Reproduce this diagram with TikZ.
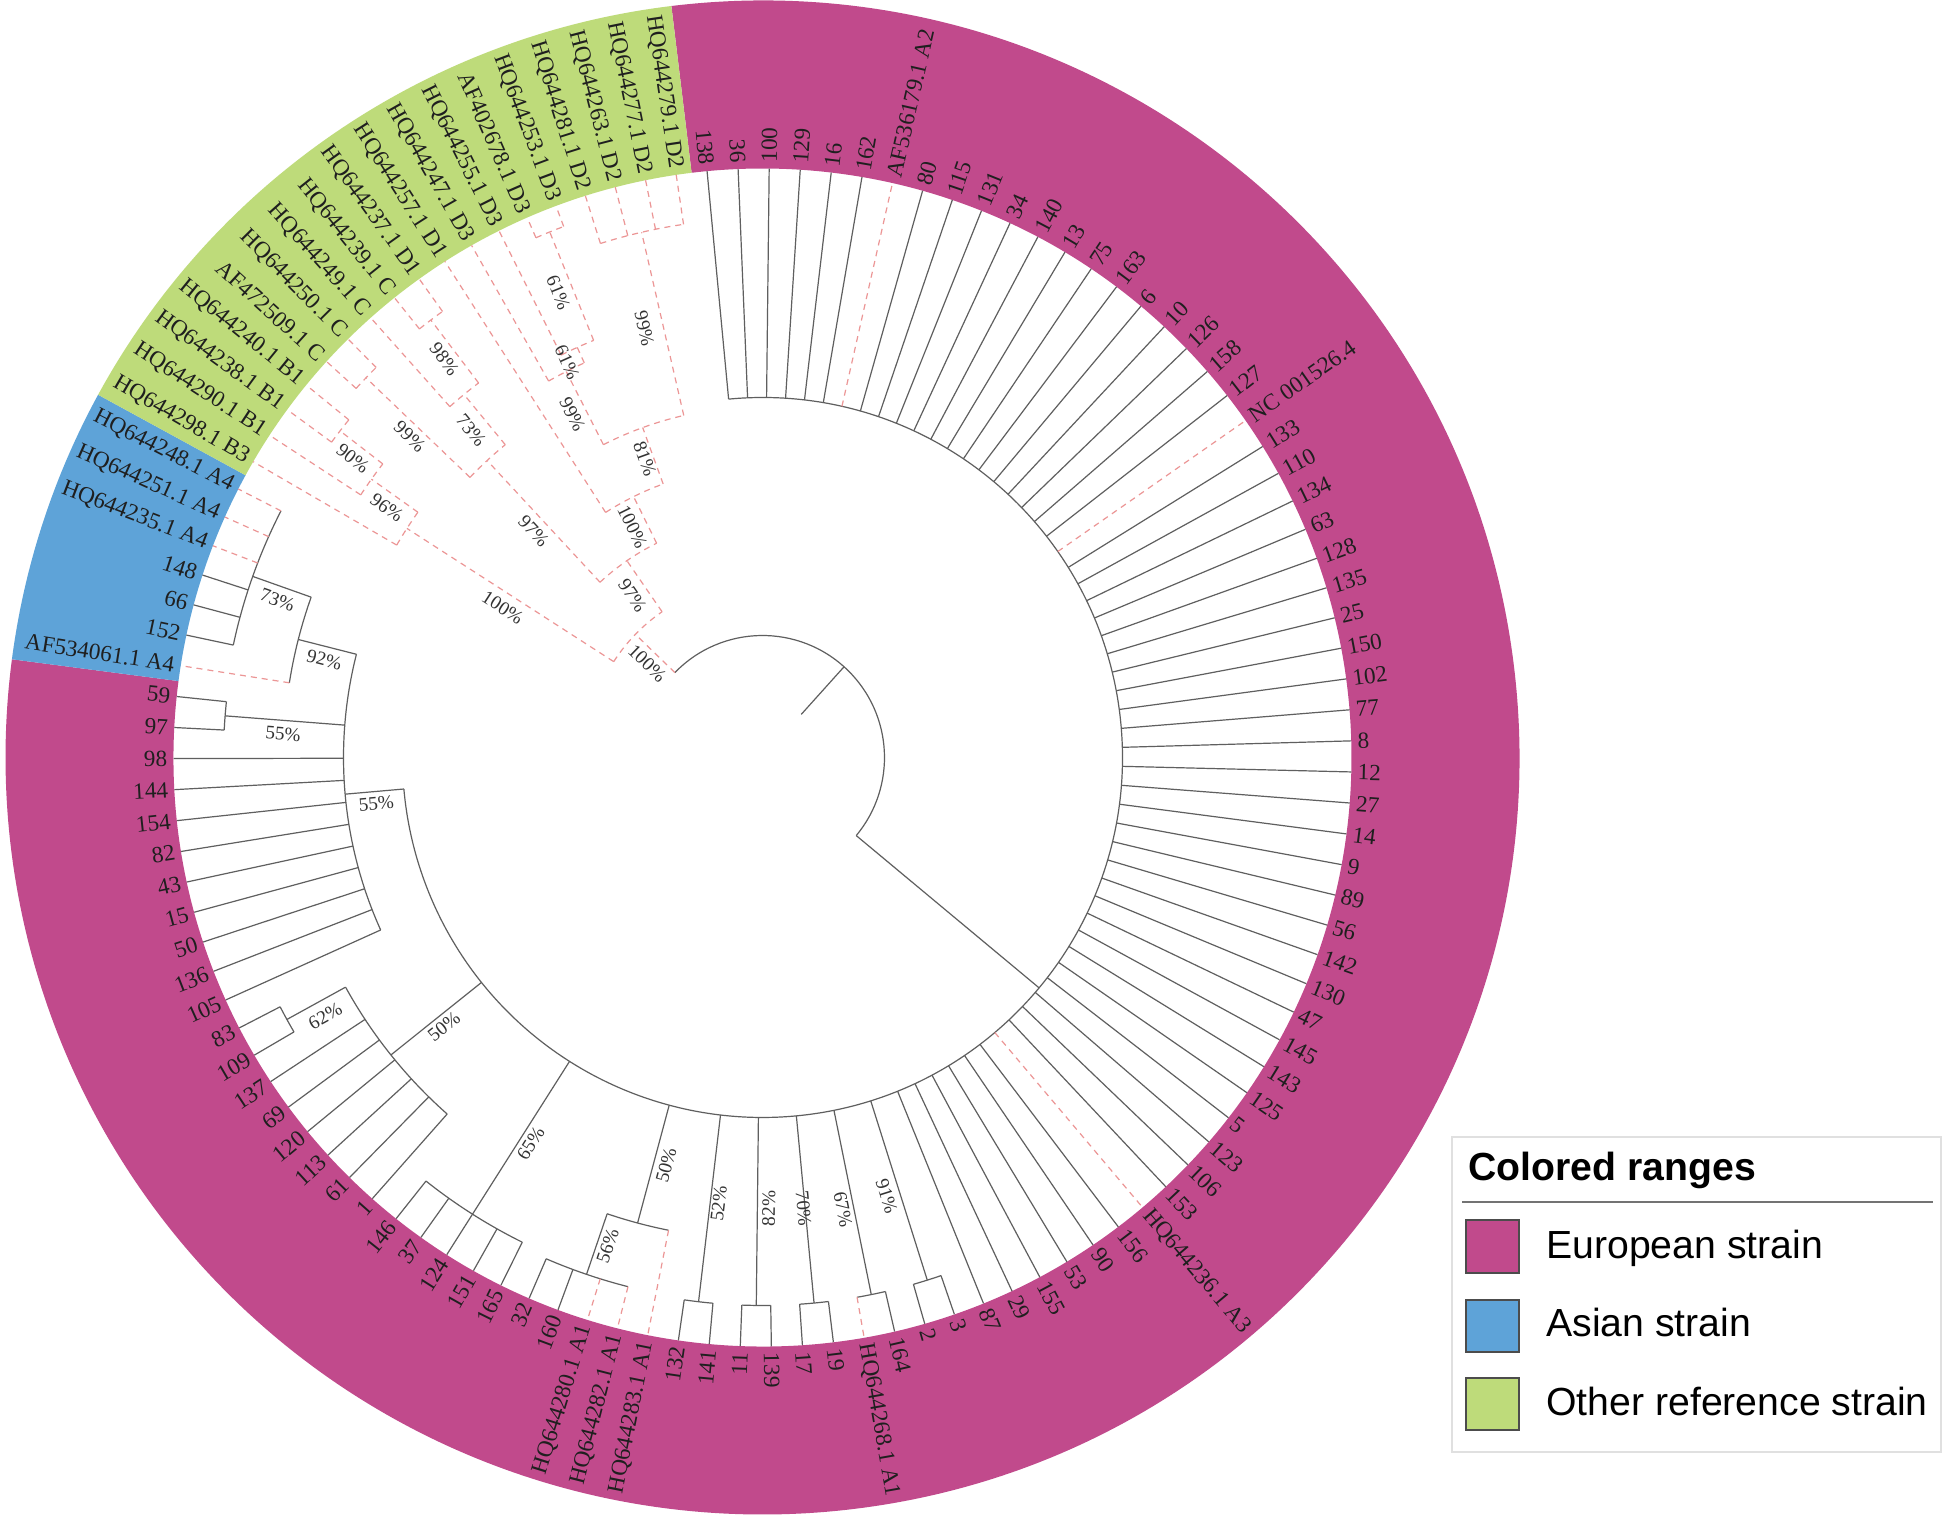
\documentclass[tikz,border=0pt]{standalone}
\usepackage{fontspec}
\setmainfont{Liberation Serif}
\newfontfamily\legfont{Liberation Sans}
\definecolor{eur}{RGB}{193,74,140}
\definecolor{asi}{RGB}{94,163,216}
\definecolor{oth}{RGB}{190,219,122}
\definecolor{treegray}{RGB}{95,95,95}
\definecolor{refred}{RGB}{236,150,150}
\newcommand{\rbr}[4]{%
  \pgfmathsetmacro\lAng{95.4-((#2)-1)*3.0252}%
  \coordinate (bA) at (\lAng:#3);%
  \coordinate (bB) at (\lAng:#4);%
  \draw[#1] (bA) -- (bB);}
\newcommand{\narc}[4]{%
  \pgfmathsetmacro\angA{95.4-((#2)-1)*3.0252}%
  \pgfmathsetmacro\angB{95.4-((#3)-1)*3.0252}%
  \draw[#1] (\angA:#4) arc[start angle=\angA, end angle=\angB, radius=#4];}
\tikzset{
  tr/.style={draw=treegray, line width=0.6pt},
  rd/.style={draw=refred, line width=0.6pt, dash pattern=on 3pt off 2.5pt},
  leaflab/.style={font=\fontsize{11.6}{13}\selectfont, inner sep=0pt, text=black!88},
  boot/.style={font=\fontsize{9.6}{10}\selectfont, inner sep=0pt, text=black!80},
  legtxt/.style={font=\legfont\fontsize{19.6}{22}\selectfont, inner sep=0pt, anchor=base west},
  swatch/.style={draw=black!70, line width=0.8pt}
}
\begin{document}
\begin{tikzpicture}[x=0.5pt,y=0.5pt]
\useasboundingbox (-762.5,-762.5) rectangle (1181.5,757.5);
\fill[white] (-762.5,-762.5) rectangle (1181.5,757.5);
% colored ranges
\fill[eur] (96.9126:757) arc[start angle=96.9126, end angle=-187.456, radius=757] -- (-187.456:589) arc[start angle=-187.456, end angle=96.9126, radius=589] -- cycle;
\fill[asi] (-187.456:757) arc[start angle=-187.456, end angle=-208.633, radius=757] -- (-208.633:589) arc[start angle=-208.633, end angle=-187.456, radius=589] -- cycle;
\fill[oth] (-208.633:757) arc[start angle=-208.633, end angle=-263.086, radius=757] -- (-263.086:589) arc[start angle=-263.086, end angle=-208.633, radius=589] -- cycle;
% internal branches, solid
\rbr{tr}{16.652}{58}{122}
\narc{tr}{-12.383}{45.6875}{122}
\rbr{tr}{45.6875}{122}{360}
\narc{tr}{1}{90.375}{360}
\foreach \nk in {56.5,58.5,60.5,62.5,64.5} {\rbr{tr}{\nk}{360}{548}}
\narc{tr}{56}{57}{548}
\narc{tr}{58}{59}{548}
\narc{tr}{60}{61}{548}
\narc{tr}{62}{63}{548}
\narc{tr}{64}{65}{548}
\rbr{tr}{67.25}{360}{482}
\narc{tr}{66}{68.5}{482}
\rbr{tr}{68.5}{482}{546}
\narc{tr}{67}{70}{546}
\rbr{tr}{73}{360}{541}
\narc{tr}{71}{75}{541}
\rbr{tr}{79.25}{360}{476}
\narc{tr}{76}{82.5}{476}
\rbr{tr}{82.5}{476}{543}
\narc{tr}{82}{83}{543}
\rbr{tr}{90.375}{360}{419}
\narc{tr}{84}{96.75}{419}
\rbr{tr}{93.5}{419}{539}
\narc{tr}{93}{94}{539}
\rbr{tr}{96.75}{419}{479}
\narc{tr}{95}{98.5}{479}
\rbr{tr}{98.5}{479}{541}
\narc{tr}{96}{101}{541}
% reference clade, dashed
\rbr{rd}{-12.383}{122}{177}
\narc{rd}{102.875}{110.359}{177}
\rbr{rd}{102.875}{177}{423}
\narc{rd}{102}{103.75}{423}
\rbr{rd}{103.75}{423}{480}
\narc{rd}{103}{104.5}{480}
\rbr{rd}{104.5}{480}{534}
\narc{rd}{104}{105}{534}
\rbr{rd}{110.359}{177}{239}
\narc{rd}{107.625}{113.094}{239}
\rbr{rd}{107.625}{239}{405}
\narc{rd}{106.5}{108.75}{405}
\rbr{rd}{106.5}{405}{549}
\narc{rd}{106}{107}{549}
\rbr{rd}{108.75}{405}{470}
\narc{rd}{108}{109.5}{470}
\rbr{rd}{109.5}{470}{549}
\narc{rd}{109}{110}{549}
\rbr{rd}{113.094}{239}{291}
\narc{rd}{111}{115.1875}{291}
\rbr{rd}{115.1875}{291}{351}
\narc{rd}{112.875}{117.5}{351}
\rbr{rd}{112.875}{351}{433}
\narc{rd}{112}{113.75}{433}
\rbr{rd}{113.75}{433}{450}
\narc{rd}{113}{114.5}{450}
\rbr{rd}{114.5}{450}{567}
\narc{rd}{114}{115}{567}
\rbr{rd}{117.5}{351}{539}
\narc{rd}{116}{119}{539}
% leaf branches
\foreach \k in {1,2,3,4,5,6,8,9,...,20,22,23,...,48,50,51,...,55} {\rbr{tr}{\k}{360}{589}}
\foreach \k in {56,57,58,60,61,62,63,64,65} {\rbr{tr}{\k}{548}{589}}
\foreach \k in {69,70} {\rbr{tr}{\k}{546}{589}}
\foreach \k in {71,...,75} {\rbr{tr}{\k}{541}{589}}
\foreach \k in {76,...,81} {\rbr{tr}{\k}{476}{589}}
\foreach \k in {82,83} {\rbr{tr}{\k}{543}{589}}
\foreach \k in {84,...,92} {\rbr{tr}{\k}{419}{589}}
\foreach \k in {93,94} {\rbr{tr}{\k}{539}{589}}
\foreach \k in {96,97,98} {\rbr{tr}{\k}{541}{589}}
\foreach \k/\rr in {7/360,21/360,49/360,59/548,66/482,67/546,68/546,95/479,99/541,100/541,101/541,102/423,103/480,104/534,105/534,106/549,107/549,108/470,109/549,110/549,111/291,112/433,113/450,114/567,115/567,116/539,117/539,118/539,119/539} {\rbr{rd}{\k}{\rr}{589}}
% leaf labels
\foreach \k/\lt in {1/138,2/36,3/100,4/129,5/16,6/162,7/AF536179.1 A2,8/80,9/115,10/131,11/34,12/140,13/13,14/75,15/163,16/6,17/10,18/126,19/158,20/127,21/NC 001526.4,22/133,23/110,24/134,25/63,26/128,27/135,28/25,29/150,30/102,31/77,32/8,33/12,34/27,35/14,36/9,37/89,38/56,39/142,40/130,41/47,42/145,43/143,44/125,45/5,46/123,47/106,48/153,49/HQ644236.1 A3,50/156,51/90,52/53,53/155,54/29,55/87,56/3,57/2,58/164,59/HQ644268.1 A1,60/19,61/17,62/139,63/11,64/141,65/132,66/HQ644283.1 A1,67/HQ644282.1 A1,68/HQ644280.1 A1,69/160,70/32,71/165,72/151,73/124,74/37,75/146,76/1,77/61,78/113,79/120,80/69,81/137,82/109,83/83,84/105,85/136,86/50,87/15,88/43,89/82,90/154,91/144,92/98,93/97,94/59,95/AF534061.1 A4,96/152,97/66,98/148,99/HQ644235.1 A4,100/HQ644251.1 A4,101/HQ644248.1 A4,102/HQ644298.1 B3,103/HQ644290.1 B1,104/HQ644238.1 B1,105/HQ644240.1 B1,106/AF472509.1 C,107/HQ644250.1 C,108/HQ644249.1 C,109/HQ644239.1 C,110/HQ644237.1 D1,111/HQ644257.1 D1,112/HQ644247.1 D3,113/HQ644255.1 D3,114/AF402678.1 D3,115/HQ644253.1 D3,116/HQ644281.1 D2,117/HQ644263.1 D2,118/HQ644277.1 D2,119/HQ644279.1 D2} {
  \pgfmathsetmacro\lAng{95.4-(\k-1)*3.0252}
  \pgfmathtruncatemacro\side{cos(\lAng)>=0 ? 1 : 0}
  \ifnum\side=1
    \node[leaflab, anchor=west, rotate=\lAng] (L\k) at (\lAng:595) {\lt};
  \else
    \pgfmathsetmacro\rot{\lAng+180}
    \node[leaflab, anchor=east, rotate=\rot] (L\k) at (\lAng:595) {\lt};
  \fi
}
% bootstrap labels
\foreach \nk/\la/\lr/\lt [count=\i] in {106.617/140.7/149/100\%,102.875/150.0/300/100\%,110.359/128.7/208/97\%,107.625/135.3/322/97\%,113.094/119.4/265/100\%,115.1875/111.5/321/81\%,112.875/119.0/392/99\%,113.75/116.3/441/61\%,114.5/113.7/508/61\%,117.5/105.4/445/99\%,103.75/146.4/451/96\%,104.5/143.9/507/90\%,106.5/137.7/477/99\%,108.75/131.7/438/73\%,109.5/128.6/510/98\%,98.5/162.0/510/73\%,96.75/167.4/449/92\%,93.5/177.2/480/55\%,90.375/186.8/389/55\%,82.5/-149.4/508/62\%,79.25/-139.8/417/50\%,73/-121.0/450/65\%,68.5/-107.6/512/56\%,67.25/-103.3/419/50\%,64.5/-95.6/448/52\%,62.5/-89.2/451/82\%,60.5/-84.8/453/70\%,58.5/-79.9/459/67\%,56.5/-74.2/456/91\%} {
  \pgfmathsetmacro\nAng{95.4-(\nk-1)*3.0252}
  \pgfmathtruncatemacro\side{cos(\nAng)>=0 ? 1 : 0}
  \ifnum\side=1
    \node[boot, rotate=\nAng] (B\i) at (\la:\lr) {\lt};
  \else
    \pgfmathsetmacro\rot{\nAng+180}
    \node[boot, rotate=\rot] (B\i) at (\la:\lr) {\lt};
  \fi
}
% legend
\draw[black!12, line width=1pt, fill=white] (689.5,-379.5) rectangle (1178.5,-694.5);
\node[legtxt, font=\legfont\bfseries\fontsize{19.6}{22}\selectfont] (legtitle) at (705.5,-422.5) {Colored ranges};
\coordinate (sepL) at (699.5,-444.2);
\coordinate (sepR) at (1170.5,-444.2);
\draw[black!55, line width=1pt] (sepL) -- (sepR);
\draw[swatch, fill=eur] (703.5,-462.5) rectangle (756.5,-515.5);
\draw[swatch, fill=asi] (703.5,-542.5) rectangle (756.5,-594.5);
\draw[swatch, fill=oth] (703.5,-620.5) rectangle (756.5,-672.5);
\node[legtxt] (leg1) at (783.5,-500.5) {European strain};
\node[legtxt] (leg2) at (783.5,-579.2) {Asian strain};
\node[legtxt] (leg3) at (783.5,-657.5) {Other reference strain};
\end{tikzpicture}
\end{document}
